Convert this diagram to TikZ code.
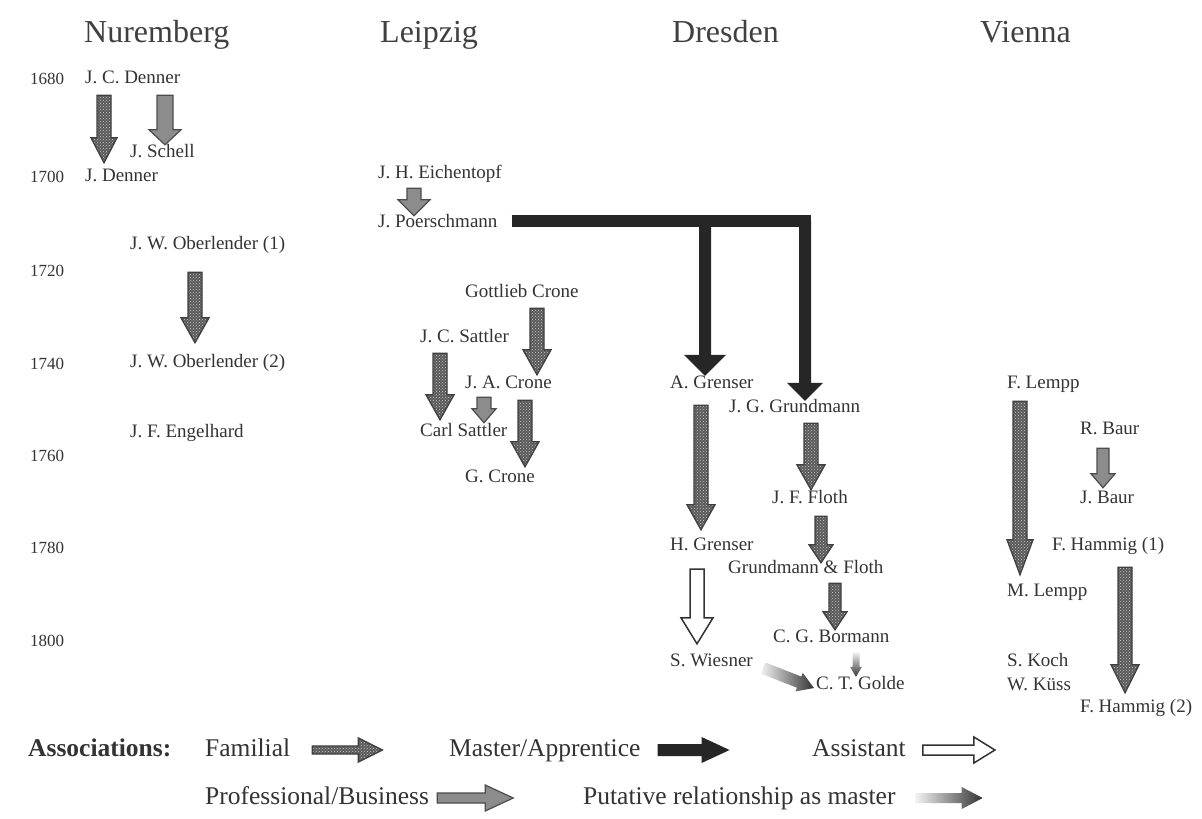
\documentclass[tikz,border=0pt]{standalone}
\usepackage{fontspec}
\setmainfont{Liberation Serif}
\usetikzlibrary{calc,patterns}
% block arrow: [style]{from}{to}{half shaft}{half head}{head length}
\newcommand\blockarrow[6][]{%
  \path let \p1=#2, \p2=#3, \n1={atan2(\y2-\y1,\x2-\x1)}, \n2={veclen(\x2-\x1,\y2-\y1)} in
    \pgfextra{\pgfmathsetmacro\batmpa{\n1}\pgfmathsetmacro\batmpb{\n2}%
      \xdef\baang{\batmpa}\xdef\balen{\batmpb}};
  \begin{scope}[shift={#2}, rotate=\baang]
    \path[#1] (0pt,-#4pt) -- ({\balen pt-#6pt},-#4pt) -- ({\balen pt-#6pt},-#5pt)
      -- (\balen pt,0pt) -- ({\balen pt-#6pt},#5pt) -- ({\balen pt-#6pt},#4pt)
      -- (0pt,#4pt) -- cycle;
  \end{scope}}
\tikzset{
  nm/.style={font=\fontsize{19}{19}\selectfont, anchor=west, inner sep=0pt,
    text height=14pt, text depth=4pt, text=black!80},
  yr/.style={font=\fontsize{17}{17}\selectfont, anchor=west, inner sep=0pt,
    text height=12pt, text depth=0pt, text=black!80},
  hd/.style={font=\fontsize{32}{32}\selectfont, anchor=base west, inner sep=0pt, text=black!75},
  lg/.style={font=\fontsize{25.5}{25.5}\selectfont, anchor=west, inner sep=0pt,
    text height=18pt, text depth=5pt, text=black!80},
  fam/.style={draw=black!75, line width=1.3pt, preaction={fill=black!65},
    pattern=crosshatch dots, pattern color=black!20},
  prof/.style={draw=black!70, line width=1.2pt, fill=black!45},
  mast/.style={fill=black!85},
  mastline/.style={draw=black!85, line width=12pt},
  asst/.style={draw=black!80, line width=1.5pt, fill=white},
  put/.style={left color=black!5, right color=black!80},
  putv/.style={top color=black!5, bottom color=black!80},
}
\begin{document}
\begin{tikzpicture}[x=1pt,y=-1pt]
\fill[white] (0,0) rectangle (1202,819);
\useasboundingbox (0,0) rectangle (1202,819);

% headings
\node[hd] (hN) at (84,42) {Nuremberg};
\node[hd] (hL) at (380,42) {Leipzig};
\node[hd] (hD) at (672,42) {Dresden};
\node[hd] (hV) at (980,42) {Vienna};

% years
\node[yr] (y1680) at (30,78) {1680};
\node[yr] (y1700) at (30,176) {1700};
\node[yr] (y1720) at (30,270) {1720};
\node[yr] (y1740) at (30,363) {1740};
\node[yr] (y1760) at (30,455) {1760};
\node[yr] (y1780) at (30,547) {1780};
\node[yr] (y1800) at (30,640) {1800};

% Nuremberg
\node[nm] (jcd) at (85,78) {J. C. Denner};
\node[nm] (jsch) at (130,152) {J. Schell};
\node[nm] (jd) at (85,176) {J. Denner};
\node[nm] (ob1) at (130,244) {J. W. Oberlender (1)};
\node[nm] (ob2) at (130,362) {J. W. Oberlender (2)};
\node[nm] (eng) at (130,432) {J. F. Engelhard};
% Leipzig
\node[nm] (eich) at (378,173) {J. H. Eichentopf};
\node[nm] (poer) at (378,222) {J. Poerschmann};
\node[nm] (gcr) at (465,292) {Gottlieb Crone};
\node[nm] (jcs) at (420,337) {J. C. Sattler};
\node[nm] (jac) at (465,383) {J. A. Crone};
\node[nm] (cs) at (420,431) {Carl Sattler};
\node[nm] (gc) at (465,477) {G. Crone};
% Dresden
\node[nm] (ag) at (670,383) {A. Grenser};
\node[nm] (jgg) at (729,407) {J. G. Grundmann};
\node[nm] (jff) at (772,498) {J. F. Floth};
\node[nm] (hg) at (670,545) {H. Grenser};
\node[nm] (gf) at (728,568) {Grundmann \& Floth};
\node[nm] (cgb) at (773,637) {C. G. Bormann};
\node[nm] (sw) at (670,661) {S. Wiesner};
\node[nm] (ctg) at (816,684) {C. T. Golde};
% Vienna
\node[nm] (fl) at (1007,383) {F. Lempp};
\node[nm] (rb) at (1080,429) {R. Baur};
\node[nm] (jb) at (1080,498) {J. Baur};
\node[nm] (fh1) at (1052,545) {F. Hammig (1)};
\node[nm] (ml) at (1007,591) {M. Lempp};
\node[nm] (sk) at (1007,661) {S. Koch};
\node[nm] (wk) at (1007,685) {W. Küss};
\node[nm] (fh2) at (1080,707) {F. Hammig (2)};

% Nuremberg arrows
\blockarrow[fam]{($(jcd.south west)+(19,8)$)}{($(jd.north west)+(19,-4)$)}{7}{13}{25}
\blockarrow[prof]{($(jcd.south west)+(80,8)$)}{($(jsch.north west)+(35,2)$)}{8}{16}{15}
\blockarrow[fam]{($(ob1.south west)+(65,19)$)}{($(ob2.north west)+(65,-10)$)}{7}{14}{25}
% Leipzig arrows
\blockarrow[prof]{($(eich.south west)+(36,6)$)}{($(poer.north west)+(36,3)$)}{7}{16}{16}
\blockarrow[fam]{($(gcr.south west)+(72,7)$)}{($(jac.north west)+(72,1)$)}{7}{14}{25}
\blockarrow[fam]{($(jcs.south west)+(20,7)$)}{($(cs.north west)+(20,-2)$)}{7}{14}{25}
\blockarrow[prof]{($(jac.south west)+(19,5)$)}{($(cs.north west)+(64,1)$)}{7}{12}{14}
\blockarrow[fam]{($(jac.south west)+(60,8)$)}{($(gc.north west)+(60,-1)$)}{7}{14}{25}
% master / apprentice from Poerschmann
\coordinate (mbar) at ($(poer.east)+(14,-1)$);
\coordinate (tipA) at ($(ag.north west)+(35,2)$);
\coordinate (tipB) at ($(jgg.north west)+(76,3)$);
\draw[mastline] (mbar) -- ($(tipB |- mbar)+(6,0)$);
\blockarrow[mast]{(tipA |- mbar)}{(tipA)}{6}{21}{21}
\blockarrow[mast]{(tipB |- mbar)}{(tipB)}{6}{18}{18}
% Dresden arrows
\blockarrow[fam]{($(ag.south west)+(31,13)$)}{($(hg.north west)+(31,-6)$)}{7}{14}{25}
\blockarrow[fam]{($(jgg.south west)+(82,7)$)}{($(jff.north west)+(39,1)$)}{7}{14}{25}
\blockarrow[fam]{($(jff.south west)+(49,9)$)}{($(gf.north west)+(93,4)$)}{6}{12}{18}
\blockarrow[fam]{($(gf.south west)+(107,6)$)}{($(cgb.north west)+(62,2)$)}{6}{12}{18}
\blockarrow[asst]{($(hg.south west)+(27,15)$)}{($(sw.north west)+(27,-8)$)}{7}{16}{26}
\blockarrow[putv]{($(cgb.south west)+(83,6)$)}{($(ctg.north west)+(40,2)$)}{3.5}{6}{10}
\blockarrow[put]{($(sw.east)+(10,7)$)}{($(ctg.west)+(-2,4)$)}{6}{10}{16}
% Vienna arrows
\blockarrow[fam]{($(fl.south west)+(13,9)$)}{($(ml.north west)+(13,-7)$)}{7}{13}{35}
\blockarrow[prof]{($(rb.south west)+(23,10)$)}{($(jb.north west)+(23,-1)$)}{6}{12}{14}
\blockarrow[fam]{($(fh1.south west)+(73,13)$)}{($(fh2.north west)+(45,-5)$)}{7}{14}{28}

% legend
\node[lg, font=\fontsize{25.5}{25.5}\selectfont\bfseries] (assoc) at (28,750) {Associations:};
\node[lg] (lfam) at (205,750) {Familial};
\node[lg] (lmast) at (449,750) {Master/Apprentice};
\node[lg] (lasst) at (812,750) {Assistant};
\node[lg] (lprof) at (205,798) {Professional/Business};
\node[lg] (lput) at (583,798) {Putative relationship as master};
\blockarrow[fam]{($(lfam.east)+(22,0)$)}{($(lfam.east)+(92,0)$)}{4}{12}{24}
\blockarrow[mast]{($(lmast.east)+(17,0)$)}{($(lmast.east)+(89,0)$)}{6}{13}{28}
\blockarrow[asst]{($(lasst.east)+(17,0)$)}{($(lasst.east)+(89,0)$)}{5}{13}{21}
\blockarrow[prof]{($(lprof.east)+(8,0)$)}{($(lprof.east)+(84,0)$)}{5}{13}{28}
\blockarrow[put]{($(lput.east)+(20,0)$)}{($(lput.east)+(87,0)$)}{5}{11}{21}
\end{tikzpicture}
\end{document}
